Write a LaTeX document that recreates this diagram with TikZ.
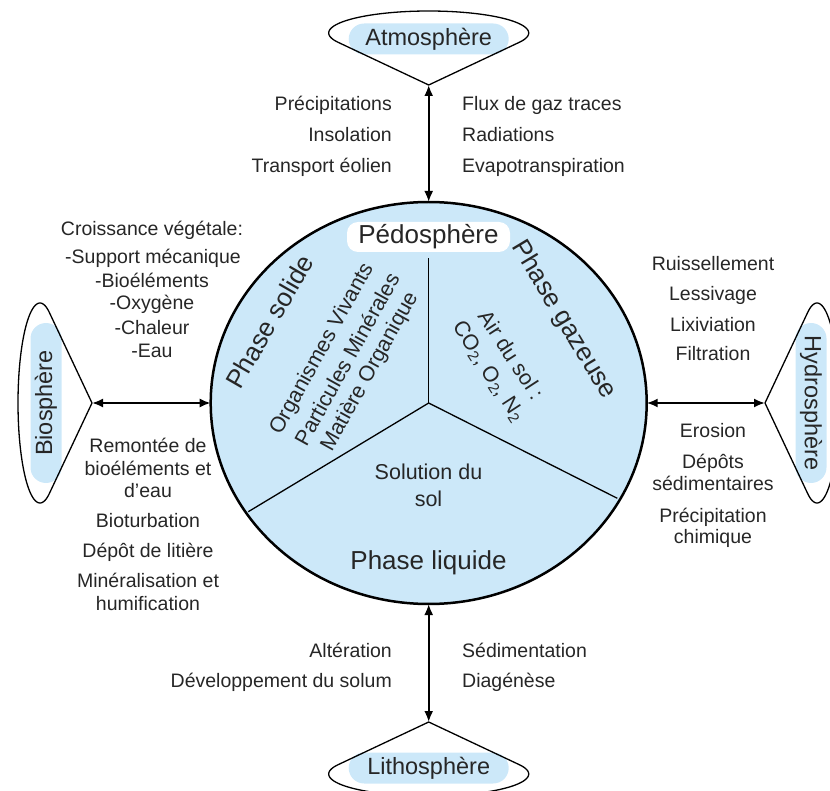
\documentclass[tikz,border=0pt]{standalone}
\usepackage{fontspec}
\setmainfont{Liberation Sans}
\usetikzlibrary{arrows.meta,shapes.geometric}
\definecolor{soilblue}{HTML}{CCE8F9}
\definecolor{txt}{HTML}{262626}
\newcommand\dropat[6]{%
  \begin{scope}[shift={(#2,#3)}, rotate=#4]
    \coordinate (#1) at (0,0);
    \fill[soilblue, rounded corners=15.5pt] (-80,-61.5) rectangle (80,-30.5);
    \draw[outline] (0,0) -- plot[domain=155:385, samples=80] ({100*cos(\x)}, {-52+22*sin(\x)}) -- cycle;
    \node[sph, rotate=#5] (#1t) at (0,-46) {#6};
  \end{scope}}
\begin{document}
\begin{tikzpicture}[x=1pt, y=-1pt,
  every node/.style={text=txt, inner sep=0pt},
  lbl/.style={font=\fontsize{19.5}{23}\selectfont},
  phase/.style={font=\fontsize{26}{30}\selectfont},
  inner/.style={font=\fontsize{21.5}{26}\selectfont},
  sph/.style={font=\fontsize{23.5}{28}\selectfont},
  arr/.style={line width=2pt, {Latex[length=11pt,width=9pt]}-{Latex[length=11pt,width=9pt]}},
  outline/.style={line width=1.3pt, draw=black},
  divider/.style={line width=1.3pt, draw=black}]
\useasboundingbox (0,0) rectangle (830,791);
\clip (0,0) rectangle (830,791);

% spheres
\dropat{atm}{428.7}{85}{0}{0}{Atmosphère}
\dropat{bio}{92}{403}{90}{90}{Biosphère}
\dropat{hyd}{765}{403}{-90}{-90}{Hydrosphère}
\dropat{lit}{428.7}{722}{180}{0}{Lithosphère}

% pedosphere
\node[ellipse, draw=black, line width=2.5pt, fill=soilblue, minimum width=436pt, minimum height=402pt, inner sep=0pt, outer sep=0pt] (pedo) at (428.7,403) {};
\coordinate (ctr) at (428.7,403);
\coordinate (dtop) at (428.7,258);
\coordinate (dleft) at (248.3,511.7);
\coordinate (dright) at (617.3,498.3);
\draw[divider] (ctr) -- (dtop);
\draw[divider] (ctr) -- (dleft);
\draw[divider] (ctr) -- (dright);
\node[fill=white, rounded corners=11pt, minimum width=163pt, minimum height=30pt, phase] (pedolbl) at (428.5,237) {Pédosphère};

\node[phase, rotate=60] (psol) at (269.3,321.7) {Phase solide};
\node[inner, rotate=61] (org) at (322.3,349) {Organismes Vivants};
\node[inner, rotate=61] (part) at (346.7,359) {Particules Minérales};
\node[inner, rotate=61] (mat) at (370,371.7) {Matière Organique};
\node[phase, rotate=-59] (pgaz) at (563.3,320) {Phase gazeuse};
\node[inner, rotate=-57] (air) at (512,355) {Air du sol :};
\node[inner, rotate=-57] (gas) at (488.3,371.7) {CO\textsubscript{2}, O\textsubscript{2}, N\textsubscript{2}};
\node[inner, anchor=mid] (sol1) at (428.5,477.3) {Solution du};
\node[inner, anchor=mid] (sol2) at (428.5,504.3) {sol};
\node[phase, anchor=mid] (pliq) at (428.5,566.7) {Phase liquide};

% arrows
\draw[arr] (atm) -- (pedo.north);
\draw[arr] (bio) -- (pedo.west);
\draw[arr] (pedo.east) -- (hyd);
\draw[arr] (pedo.south) -- (lit);

% top labels
\node[lbl, anchor=mid east] (tl1) at (392,107.5) {Précipitations};
\node[lbl, anchor=mid east] (tl2) at (392,139) {Insolation};
\node[lbl, anchor=mid east] (tl3) at (392,170) {Transport éolien};
\node[lbl, anchor=mid west] (tr1) at (462,107.5) {Flux de gaz traces};
\node[lbl, anchor=mid west] (tr2) at (462,139) {Radiations};
\node[lbl, anchor=mid west] (tr3) at (462,170) {Evapotranspiration};

% left labels
\node[lbl, anchor=mid] (lu1) at (152,233) {Croissance végétale:};
\node[lbl, anchor=mid] (lu2) at (153,261) {-Support mécanique};
\node[lbl, anchor=mid] (lu3) at (152,285) {-Bioéléments};
\node[lbl, anchor=mid] (lu4) at (152,307) {-Oxygène};
\node[lbl, anchor=mid] (lu5) at (152,332) {-Chaleur};
\node[lbl, anchor=mid] (lu6) at (152,355) {-Eau};
\node[lbl, anchor=mid] (ll1) at (148,450) {Remontée de};
\node[lbl, anchor=mid] (ll2) at (148,473) {bioéléments et};
\node[lbl, anchor=mid] (ll3) at (148,495) {d’eau};
\node[lbl, anchor=mid] (ll4) at (148,525) {Bioturbation};
\node[lbl, anchor=mid] (ll5) at (148,555) {Dépôt de litière};
\node[lbl, anchor=mid] (ll6) at (148,585) {Minéralisation et};
\node[lbl, anchor=mid] (ll7) at (148,608) {humification};

% right labels
\node[lbl, anchor=mid] (ru1) at (713,268) {Ruissellement};
\node[lbl, anchor=mid] (ru2) at (713,298) {Lessivage};
\node[lbl, anchor=mid] (ru3) at (713,329) {Lixiviation};
\node[lbl, anchor=mid] (ru4) at (713,358) {Filtration};
\node[lbl, anchor=mid] (rl1) at (713,435) {Erosion};
\node[lbl, anchor=mid] (rl2) at (713,466) {Dépôts};
\node[lbl, anchor=mid] (rl3) at (713,488) {sédimentaires};
\node[lbl, anchor=mid] (rl4) at (713,520) {Précipitation};
\node[lbl, anchor=mid] (rl5) at (713,541) {chimique};

% bottom labels
\node[lbl, anchor=mid east] (bl1) at (392,655) {Altération};
\node[lbl, anchor=mid east] (bl2) at (392,685) {Développement du solum};
\node[lbl, anchor=mid west] (br1) at (462,655) {Sédimentation};
\node[lbl, anchor=mid west] (br2) at (462,685) {Diagénèse};
\end{tikzpicture}
\end{document}
